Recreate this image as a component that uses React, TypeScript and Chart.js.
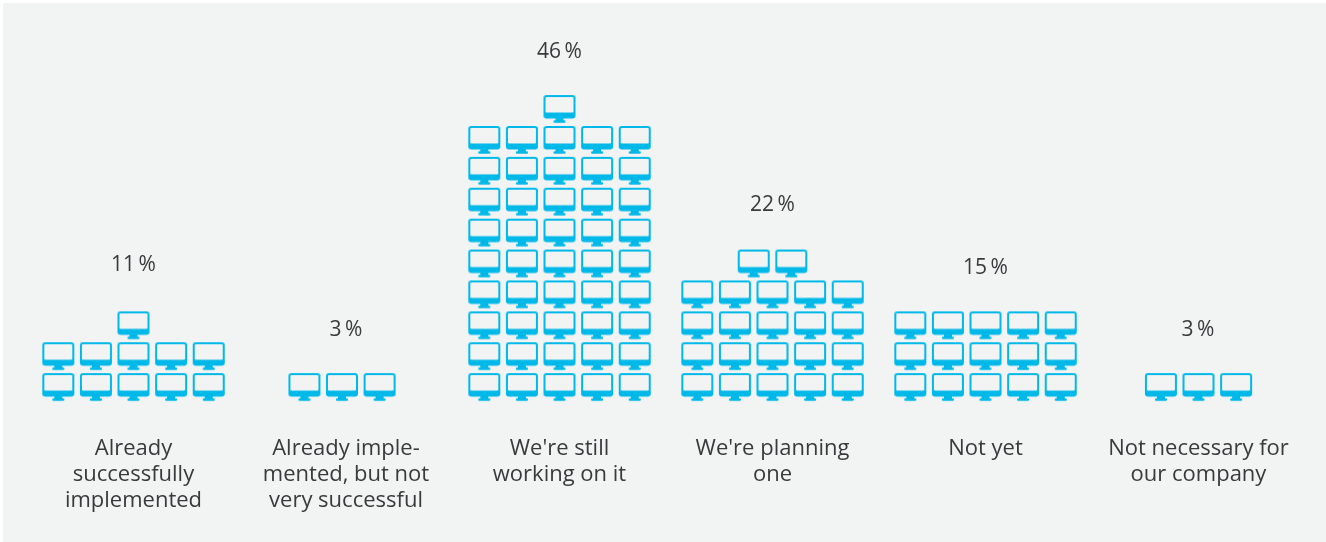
import React, { useEffect, useRef } from "react";
import { Chart, registerables } from "chart.js";

Chart.register(...registerables);

const categories: string[][] = [
  ["Already", "successfully", "implemented"],
  ["Already imple-", "mented, but not", "very successful"],
  ["We're still", "working on it"],
  ["We're planning", "one"],
  ["Not yet"],
  ["Not necessary for", "our company"],
];
const values = [11, 3, 46, 22, 15, 3];
const valueLabels = ["11\u2009%", "3\u2009%", "46\u2009%", "22\u2009%", "15\u2009%", "3\u2009%"];

const ICON_COLOR = "#00b9e9";
const PANEL_COLOR = "#f2f4f4";
const TEXT_COLOR = "#3a3a3c";
const FONT = '"Open Sans", sans-serif';

// Layout of the pictogram groups on the pixel-wide x axis.
const iconCentres = [133.5, 342, 559.5, 772.5, 985.5, 1198.5];
const labelCentres = [133.5, 346, 559.5, 772.5, 985.5, 1198.5];
const valueCentres = [133.5, 346, 559.5, 772.5, 985.5, 1198];
const valueShift = [1, 4, 4, 2, 4, 4];
const PER_ROW = 5;
const COL_STEP = 37.6;

function makeIcon(): HTMLCanvasElement {
  const c = document.createElement("canvas");
  c.width = 34;
  c.height = 30;
  const g = c.getContext("2d")!;
  g.fillStyle = ICON_COLOR;
  g.beginPath();
  g.roundRect(1, 1, 32, 23.5, 3);
  g.fill();
  g.fillRect(13, 24, 8, 3);
  g.beginPath();
  g.roundRect(11, 26.2, 12, 2.6, 1);
  g.fill();
  g.fillStyle = PANEL_COLOR;
  g.beginPath();
  g.roundRect(3, 3, 28, 15.5, 1);
  g.fill();
  return c;
}

function iconPoints(total: number, centre: number) {
  const pts: { x: number; y: number }[] = [];
  const rows = Math.ceil(total / PER_ROW);
  for (let r = 0; r < rows; r++) {
    const n = r < rows - 1 ? PER_ROW : total - r * PER_ROW;
    for (let i = 0; i < n; i++) {
      pts.push({ x: centre + (i - (n - 1) / 2) * COL_STEP, y: r });
    }
  }
  return pts;
}

const panelPlugin = {
  id: "panel",
  beforeDraw(chart: any) {
    const { ctx, width, height } = chart;
    ctx.save();
    ctx.fillStyle = "#ffffff";
    ctx.fillRect(0, 0, width, height);
    ctx.fillStyle = PANEL_COLOR;
    ctx.fillRect(3, 3, width - 3, height - 3);
    ctx.restore();
  },
};

const valueLabelPlugin = {
  id: "valueLabels",
  afterDatasetsDraw(chart: any) {
    const { ctx, scales } = chart;
    ctx.save();
    ctx.fillStyle = TEXT_COLOR;
    ctx.font = `21px ${FONT}`;
    ctx.textAlign = "center";
    ctx.textBaseline = "middle";
    values.forEach((v, i) => {
      const topRow = Math.ceil(v / PER_ROW) - 1;
      const y = scales.y.getPixelForValue(topRow + 1.97) + valueShift[i];
      ctx.fillText(valueLabels[i], scales.x.getPixelForValue(valueCentres[i]), y);
    });
    ctx.restore();
  },
};

export default function App() {
  const ref = useRef<HTMLCanvasElement>(null);
  useEffect(() => {
    const icon = makeIcon();
    const chart = new Chart(ref.current!, {
      type: "scatter",
      data: {
        datasets: values.map((v, i) => ({
          label: categories[i].join(" "),
          data: iconPoints(v, iconCentres[i]),
          pointStyle: icon,
          pointRadius: 16,
          showLine: false,
        })),
      },
      options: {
        animation: false,
        responsive: false,
        layout: { padding: 0, autoPadding: false },
        plugins: { legend: { display: false }, tooltip: { enabled: false } },
        scales: {
          x: {
            type: "linear",
            min: 0,
            max: 1326,
            grid: { display: false },
            border: { display: false },
            afterBuildTicks(scale: any) {
              scale.ticks = labelCentres.map((value) => ({ value }));
            },
            afterFit(scale: any) {
              scale.height = 124;
              scale.paddingLeft = 0;
              scale.paddingRight = 0;
            },
            ticks: {
              autoSkip: false,
              maxRotation: 0,
              minRotation: 0,
              padding: 10,
              color: TEXT_COLOR,
              font: { family: FONT, size: 22, lineHeight: 1.18 },
              callback(_v: any, i: number) {
                return categories[i];
              },
            },
          },
          y: {
            type: "linear",
            display: false,
            min: -1,
            max: 12.53,
          },
        },
      },
      plugins: [panelPlugin, valueLabelPlugin],
    } as any);
    return () => chart.destroy();
  }, []);
  return (
    <div style={{ position: "fixed", left: 0, top: 0, width: 1326, height: 542 }}>
      <canvas ref={ref} width={1326} height={542} style={{ display: "block" }} />
    </div>
  );
}
